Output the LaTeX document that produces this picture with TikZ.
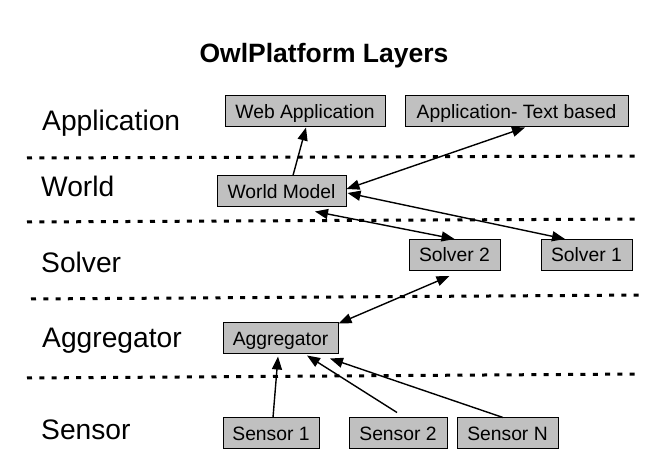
\documentclass[tikz,border=0pt]{standalone}
\usepackage{fontspec}
\setmainfont{Liberation Sans}
\usetikzlibrary{arrows.meta,calc}
\definecolor{boxgray}{HTML}{C0C0C0}
\begin{document}
\begin{tikzpicture}[x=1pt,y=-1pt,
 box/.style={draw=black, line width=1pt, fill=boxgray, inner sep=0pt, minimum height=31pt, text height=14pt, text depth=0pt, font=\fontsize{19.3}{22}\selectfont},
 layer/.style={anchor=base west, inner sep=0pt, font=\fontsize{28.2}{32}\selectfont},
 sep/.style={line width=3pt, dash pattern=on 5pt off 7.3pt},
 link/.style={line width=1.4pt, -{Triangle[length=13pt,width=10pt]}},
 dlink/.style={line width=1.4pt, {Triangle[length=13pt,width=10pt]}-{Triangle[length=13pt,width=10pt]}},
]
\useasboundingbox (0,0) rectangle (657,473);

% title
\node[anchor=base, inner sep=0pt, font=\bfseries\fontsize{26.5}{30}\selectfont] (title) at (324,63) {OwlPlatform Layers};

% layer labels
\node[layer] (lapp) at (42,131) {Application};
\node[layer] (lworld) at (41,197) {World};
\node[layer] (lsolver) at (41,273) {Solver};
\node[layer] (lagg) at (42,348) {Aggregator};
\node[layer] (lsensor) at (41,439) {Sensor};

% separators
\draw[sep] (27,158) -- (637,156);
\draw[sep] (27,222) -- (637,219);
\draw[sep] (31,299) -- (642,295);
\draw[sep] (27,378) -- (637,374);

% boxes
\node[box, minimum width=160pt] (web) at (305,111.5) {Web Application};
\node[box, minimum width=223pt] (apptext) at (516.5,111.5) {Application- Text based};
\node[box, minimum width=129pt] (world) at (281.5,191.5) {World Model};
\node[box, minimum width=91pt] (solver2) at (454.5,255) {Solver 2};
\node[box, minimum width=91pt] (solver1) at (586.5,255) {Solver 1};
\node[box, minimum width=115pt] (agg) at (280.5,338.5) {Aggregator};
\node[box, minimum width=96pt] (s1) at (271,433.5) {Sensor 1};
\node[box, minimum width=98pt] (s2) at (398,433.5) {Sensor 2};
\node[box, minimum width=101pt] (sN) at (507.5,433.5) {Sensor N};

% connectors
\draw[link] ($(world.north)+(11.5,0)$) -- ($(web.south)+(1,0)$);
\draw[dlink] ($(apptext.south)+(8.5,0)$) -- ($(world.east)+(0,-2.5)$);
\draw[dlink] ($(world.east)+(1,1.5)$) -- ($(solver1.north)+(-21.5,0)$);
\draw[dlink] ($(world.south)+(33.5,4)$) -- (solver2.north);
\draw[dlink] ($(solver2.south)+(-5,5)$) -- ($(agg.north east)+(0,1)$);
\draw[link] ($(s1.north)+(2,0)$) -- ($(agg.south)+(-2.5,2)$);
\draw[link] ($(s2.north)+(-1,-5)$) -- ($(agg.south)+(26.5,1)$);
\draw[link] ($(sN.north)+(-4.5,0)$) -- ($(agg.south)+(49.5,4)$);
\end{tikzpicture}
\end{document}
